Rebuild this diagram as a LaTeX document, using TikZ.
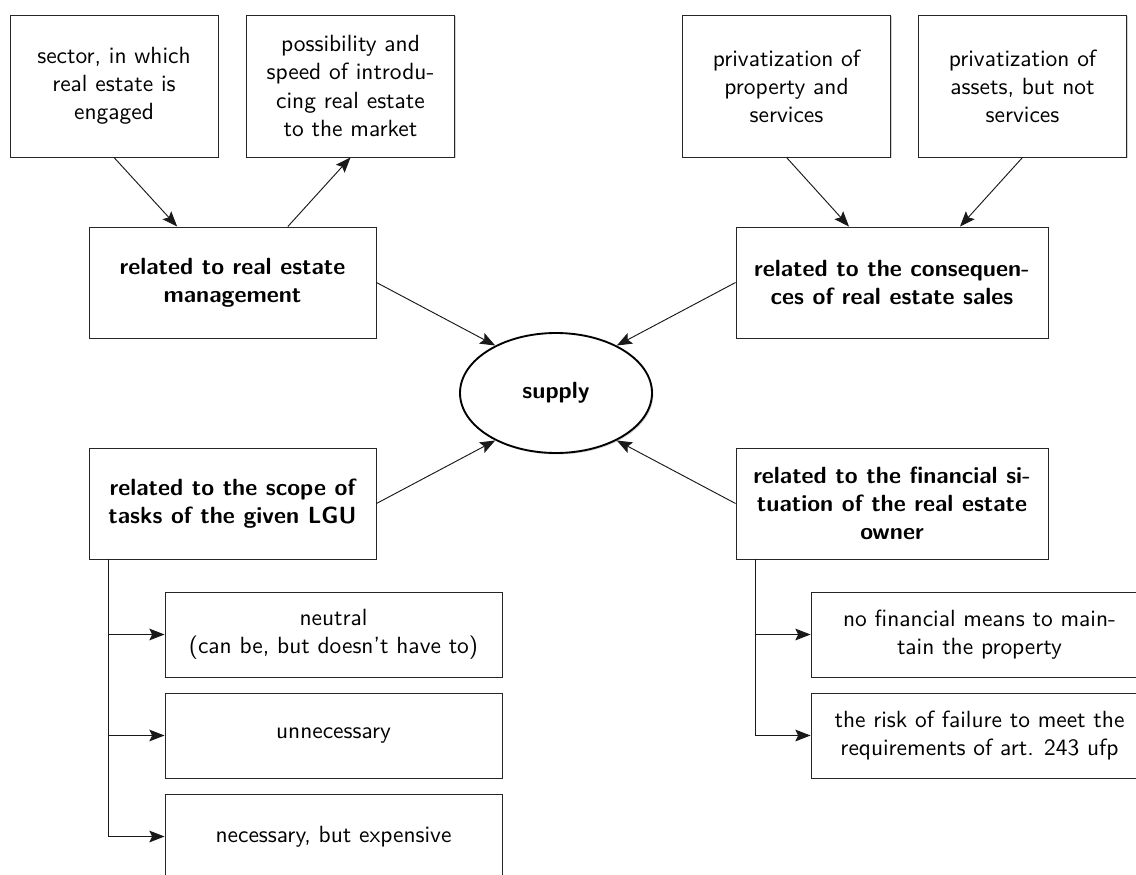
\documentclass[tikz,border=0pt]{standalone}
\usepackage{tikz}
\usetikzlibrary{
    arrows.meta,
    shapes.geometric,
    shadows
}
\tikzstyle{factor} = [
    rectangle,
    draw=black!85,
    fill=white,
    thin,
    align=center,
    font=\sffamily,
    drop shadow={shadow xshift=0.6pt, shadow yshift=-0.6pt, opacity=0.35}
]
\tikzstyle{source} = [
    factor,
    minimum width=3.12cm,
    minimum height=2.13cm
]
\tikzstyle{group} = [
    factor,
    minimum height=1.665cm,
    font=\sffamily\bfseries
]
\tikzstyle{option} = [
    factor,
    minimum width=5.055cm,
    minimum height=1.275cm
]
\tikzstyle{core} = [
    ellipse,
    draw=black,
    fill=white,
    line width=0.8pt,
    minimum width=2.88cm,
    minimum height=1.8cm,
    font=\sffamily\bfseries,
    drop shadow={shadow xshift=0.6pt, shadow yshift=-0.6pt, opacity=0.35}
]
\tikzstyle{linkarrow} = [
    -{Stealth[length=6.5pt, width=5pt, inset=1.2pt]},
    thin,
    draw=black!90
]

\begin{document}
\begin{tikzpicture}
    \useasboundingbox (0,0) rectangle (17.04,-13.11);
    % top row
    \node[source] (sector) at (1.71,-1.29) {sector, in which\\real estate is\\engaged};
    \node[source] (speed) at (5.2575,-1.29) {possibility and\\speed of introdu-\\cing real estate\\to the market};
    \node[source] (propserv) at (11.7975,-1.29) {privatization of\\property and\\services};
    \node[source] (assets) at (15.3375,-1.29) {privatization of\\assets, but not\\services};
    % groups round the core
    \node[group, minimum width=4.305cm] (manage) at (3.4875,-4.2375) {related to real estate\\management};
    \node[group, minimum width=4.68cm] (sales) at (13.38,-4.2375) {related to the consequen-\\ces of real estate sales};
    \node[core] (supply) at (8.34,-5.895) {supply};
    \node[group, minimum width=4.305cm] (tasks) at (3.4875,-7.5525) {related to the scope of\\tasks of the given LGU};
    \node[group, minimum width=4.68cm] (finance) at (13.38,-7.5525) {related to the financial si-\\tuation of the real estate\\owner};
    % options
    \node[option] (neutral) at (5.0025,-9.5175) {neutral\\(can be, but doesn't have to)};
    \node[option] (unneeded) at (5.0025,-11.0325) {unnecessary};
    \node[option] (costly) at (5.0025,-12.5475) {necessary, but expensive};
    \node[option] (nomeans) at (14.6925,-9.5175) {no financial means to main-\\tain the property};
    \node[option] (risk) at (14.6925,-11.0325) {the risk of failure to meet the\\requirements of art. 243 ufp};

    % top links
    \draw[linkarrow] (sector.south) -- ([xshift=-0.83cm]manage.north);
    \draw[linkarrow] ([xshift=0.83cm]manage.north) -- (speed.south);
    \draw[linkarrow] (propserv.south) -- ([xshift=-0.645cm]sales.north);
    \draw[linkarrow] (assets.south) -- ([xshift=1.02cm]sales.north);

    % into the core
    \draw[linkarrow] (manage.east) -- (supply.142);
    \draw[linkarrow] (sales.west) -- (supply.38);
    \draw[linkarrow] (tasks.east) -- (supply.218);
    \draw[linkarrow] (finance.west) -- (supply.322);

    % branches
    \coordinate (tasksroot) at ([xshift=0.3cm]tasks.south west);
    \coordinate (financeroot) at ([xshift=0.3cm]finance.south west);
    \draw[linkarrow] (tasksroot) |- (neutral.west);
    \draw[linkarrow] (tasksroot) |- (unneeded.west);
    \draw[linkarrow] (tasksroot) |- (costly.west);
    \draw[linkarrow] (financeroot) |- (nomeans.west);
    \draw[linkarrow] (financeroot) |- (risk.west);
\end{tikzpicture}
\end{document}
